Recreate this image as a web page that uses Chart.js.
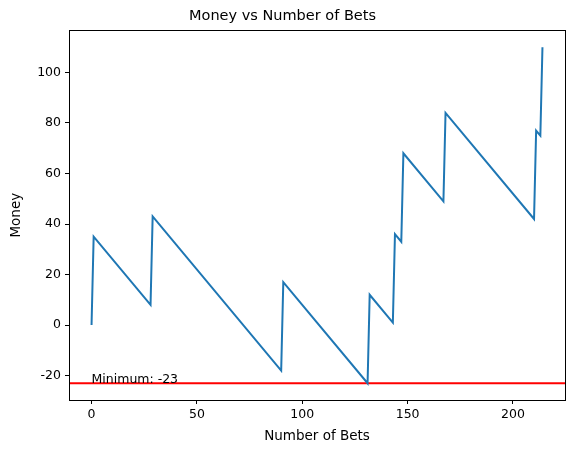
<!DOCTYPE html>
<html>
<head>
<meta charset="utf-8">
<script src="https://cdn.jsdelivr.net/npm/chart.js@4.4.0/dist/chart.umd.min.js"></script>
<style>
  html, body { margin: 0; padding: 0; background: #fff; }
  #wrap { width: 574px; height: 453px; }
</style>
</head>
<body>
<div id="wrap"><canvas id="chart" width="574" height="453"></canvas></div>
<script>
// bet index where the trend changes, and money at that bet
const betIndex = [0, 1, 28, 29, 90, 91, 131, 132, 143, 144, 147, 148, 167, 168, 210, 211, 213, 214];
const money    = [0, 35, 8, 43, -18, 17, -23, 12, 1, 36, 33, 68, 49, 84, 42, 77, 75, 110];
const minMoney = -23;
const xTicks = [0, 50, 100, 150, 200];
const yTicks = [-20, 0, 20, 40, 60, 80, 100];

const FONT = "'DejaVu Sans', sans-serif";

// matplotlib-ish 5% margins
const xSpan = betIndex[betIndex.length - 1] - betIndex[0];
const xMin = betIndex[0] - xSpan * 0.05, xMax = betIndex[betIndex.length - 1] + xSpan * 0.05;
const ySpan = Math.max(...money) - Math.min(...money);
const yMin = Math.min(...money) - ySpan * 0.05, yMax = Math.max(...money) + ySpan * 0.05;

const frame = {
  id: 'frame',
  afterDraw(chart) {
    const { ctx, chartArea: a, scales } = chart;
    ctx.save();
    // min label
    ctx.fillStyle = '#000';
    ctx.font = '12.5px ' + FONT;
    ctx.textBaseline = 'alphabetic';
    ctx.textAlign = 'left';
    ctx.fillText('Minimum: ' + minMoney, scales.x.getPixelForValue(0), scales.y.getPixelForValue(minMoney));
    // axes box
    ctx.strokeStyle = '#000';
    ctx.lineWidth = 1;
    ctx.strokeRect(Math.round(a.left) + 0.5, Math.round(a.top) + 0.5, Math.round(a.right - a.left), Math.round(a.bottom - a.top));
    ctx.restore();
  }
};

const tickGrid = { display: true, drawOnChartArea: false, drawTicks: true, tickLength: 4, color: '#000', tickColor: '#000' };

new Chart(document.getElementById('chart'), {
  type: 'line',
  data: {
    datasets: [
      {
        data: betIndex.map((x, i) => ({ x, y: money[i] })),
        borderColor: '#1f77b4',
        borderWidth: 2,
        pointRadius: 0,
        tension: 0,
      },
      {
        data: [{ x: xMin, y: minMoney }, { x: xMax, y: minMoney }],
        borderColor: '#ff0000',
        borderWidth: 2,
        pointRadius: 0,
      },
    ],
  },
  options: {
    responsive: false,
    animation: false,
    layout: { padding: { left: 0, right: 9, top: 0, bottom: 0 } },
    plugins: {
      legend: { display: false },
      tooltip: { enabled: false },
      title: {
        display: true,
        text: 'Money vs Number of Bets',
        color: '#000',
        font: { family: FONT, size: 14.5, weight: 'normal' },
        padding: { top: 8, bottom: 5 },
      },
    },
    scales: {
      x: {
        type: 'linear',
        min: xMin, max: xMax,
        afterBuildTicks: s => { s.ticks = xTicks.map(v => ({ value: v })); },
        afterFit: s => { s.height = 53; },
        ticks: { color: '#000', font: { family: FONT, size: 12.5 }, padding: 3, maxRotation: 0 },
        grid: tickGrid,
        border: { display: false },
        title: { display: true, text: 'Number of Bets', color: '#000', font: { family: FONT, size: 13.5 }, padding: { top: 2, bottom: 8 } },
      },
      y: {
        type: 'linear',
        min: yMin, max: yMax,
        afterBuildTicks: s => { s.ticks = yTicks.map(v => ({ value: v })); },
        afterFit: s => { s.width = 69; },
        ticks: { color: '#000', font: { family: FONT, size: 12.5 }, padding: 4 },
        grid: tickGrid,
        border: { display: false },
        title: { display: true, text: 'Money', color: '#000', font: { family: FONT, size: 13.5 }, padding: { top: 8, bottom: 2 } },
      },
    },
  },
  plugins: [frame],
});
</script>
</body>
</html>
